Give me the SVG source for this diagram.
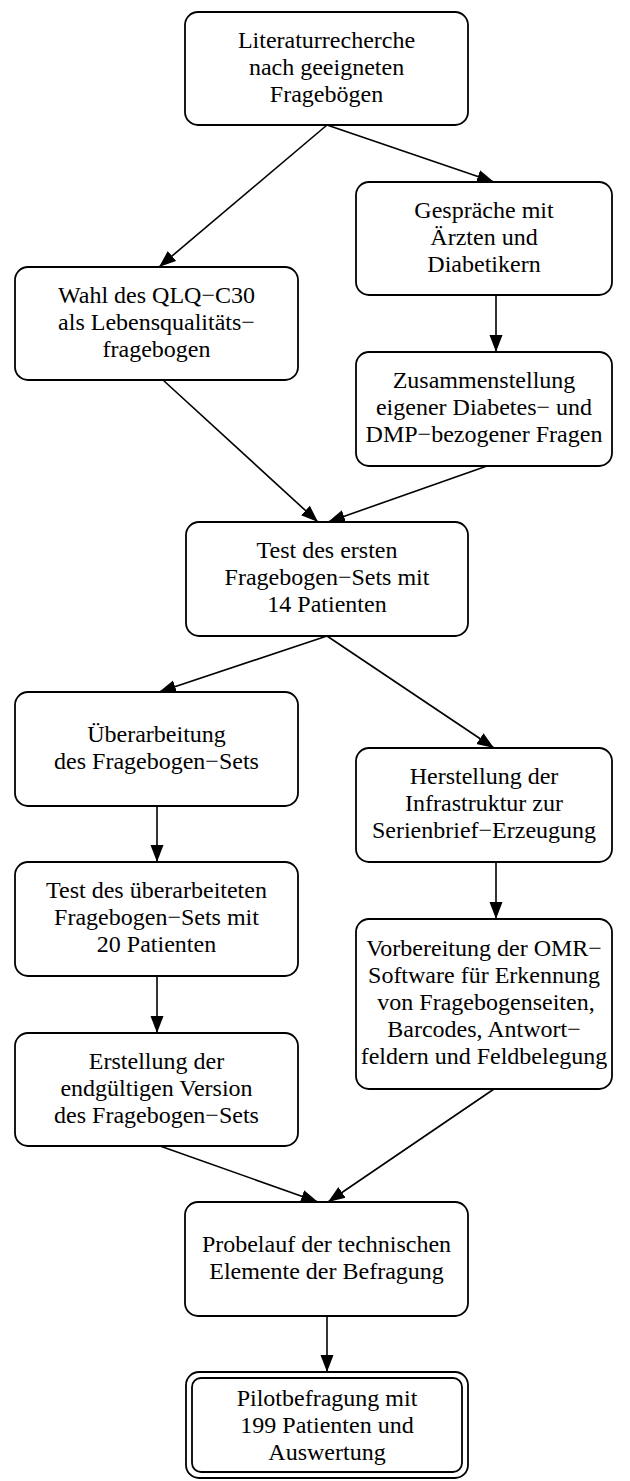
<svg xmlns="http://www.w3.org/2000/svg" width="630" height="1481" viewBox="0 0 630 1481">
<defs>
<style>
.box{fill:#fff;stroke:#000;stroke-width:1.8}
.t{font-size:24px;fill:#000;text-anchor:middle}
.e{stroke:#000;stroke-width:1.6;fill:none;marker-end:url(#ah)}
</style>
<marker id="ah" markerUnits="userSpaceOnUse" markerWidth="18" markerHeight="14" refX="17" refY="7" orient="auto">
<path d="M0,0.5 L17,7 L0,13.5 Z" fill="#000"/>
</marker>
</defs>
<rect width="630" height="1481" fill="#fff"/>
<g id="connectors">
<line class="e" x1="327" y1="125" x2="159" y2="267"/>
<line class="e" x1="327" y1="125" x2="494" y2="182"/>
<line class="e" x1="496" y1="295" x2="496" y2="352"/>
<line class="e" x1="163" y1="380" x2="318" y2="522"/>
<line class="e" x1="487" y1="466" x2="328" y2="522"/>
<line class="e" x1="327" y1="636" x2="159" y2="692"/>
<line class="e" x1="327" y1="636" x2="494" y2="748"/>
<line class="e" x1="157" y1="806" x2="157" y2="862"/>
<line class="e" x1="496" y1="862" x2="496" y2="919"/>
<line class="e" x1="157" y1="976" x2="157" y2="1033"/>
<line class="e" x1="160" y1="1146" x2="318" y2="1202"/>
<line class="e" x1="494" y1="1089" x2="328" y2="1202"/>
<line class="e" x1="327" y1="1316" x2="327" y2="1372"/>
</g>
<g font-family="Liberation Serif, Times New Roman, DejaVu Serif, serif">
<g id="n1"><rect class="box" x="185" y="12" width="283" height="113" rx="13"/>
<text class="t" x="326.5" y="47.5">Literaturrecherche</text><text class="t" x="326.5" y="74.5">nach geeigneten</text><text class="t" x="326.5" y="101.5">Fragebögen</text></g>
<g id="n2"><rect class="box" x="356" y="182" width="256" height="113" rx="13"/>
<text class="t" x="484" y="217.5">Gespräche mit</text><text class="t" x="484" y="244.5">Ärzten und</text><text class="t" x="484" y="271.5">Diabetikern</text></g>
<g id="n3"><rect class="box" x="15" y="267" width="283" height="113" rx="13"/>
<text class="t" x="156.5" y="302.5">Wahl des QLQ−C30</text><text class="t" x="156.5" y="329.5">als Lebensqualitäts−</text><text class="t" x="156.5" y="356.5">fragebogen</text></g>
<g id="n4"><rect class="box" x="356" y="352" width="256" height="114" rx="13"/>
<text class="t" x="484" y="388">Zusammenstellung</text><text class="t" x="484" y="415">eigener Diabetes− und</text><text class="t" x="484" y="442">DMP−bezogener Fragen</text></g>
<g id="n5"><rect class="box" x="186" y="522" width="282" height="114" rx="13"/>
<text class="t" x="327" y="558">Test des ersten</text><text class="t" x="327" y="585">Fragebogen−Sets mit</text><text class="t" x="327" y="612">14 Patienten</text></g>
<g id="n6"><rect class="box" x="15" y="692" width="283" height="114" rx="13"/>
<text class="t" x="156.5" y="741.5">Überarbeitung</text><text class="t" x="156.5" y="768.5">des Fragebogen−Sets</text></g>
<g id="n7"><rect class="box" x="356" y="748" width="256" height="114" rx="13"/>
<text class="t" x="484" y="784">Herstellung der</text><text class="t" x="484" y="811">Infrastruktur zur</text><text class="t" x="484" y="838">Serienbrief−Erzeugung</text></g>
<g id="n8"><rect class="box" x="15" y="862" width="283" height="114" rx="13"/>
<text class="t" x="156.5" y="898">Test des überarbeiteten</text><text class="t" x="156.5" y="925">Fragebogen−Sets mit</text><text class="t" x="156.5" y="952">20 Patienten</text></g>
<g id="n9"><rect class="box" x="356" y="919" width="256" height="170" rx="13"/>
<text class="t" x="484" y="956">Vorbereitung der OMR−</text><text class="t" x="484" y="983">Software für Erkennung</text><text class="t" x="486" y="1010">von Fragebogenseiten,</text><text class="t" x="484" y="1037">Barcodes, Antwort−</text><text class="t" x="484" y="1064">feldern und Feldbelegung</text></g>
<g id="n10"><rect class="box" x="15" y="1033" width="283" height="113" rx="13"/>
<text class="t" x="156.5" y="1068.5">Erstellung der</text><text class="t" x="156.5" y="1095.5">endgültigen Version</text><text class="t" x="156.5" y="1122.5">des Fragebogen−Sets</text></g>
<g id="n11"><rect class="box" x="185" y="1202" width="283" height="114" rx="13"/>
<text class="t" x="326.5" y="1251.5">Probelauf der technischen</text><text class="t" x="326.5" y="1278.5">Elemente der Befragung</text></g>
<g id="n12"><rect class="box" x="186" y="1372" width="282" height="106" rx="13"/><rect class="box" x="192" y="1378" width="270" height="94" rx="9" stroke-width="1.2"/>
<text class="t" x="327" y="1406">Pilotbefragung mit</text><text class="t" x="327" y="1433">199 Patienten und</text><text class="t" x="327" y="1460">Auswertung</text></g>
</g>
</svg>
